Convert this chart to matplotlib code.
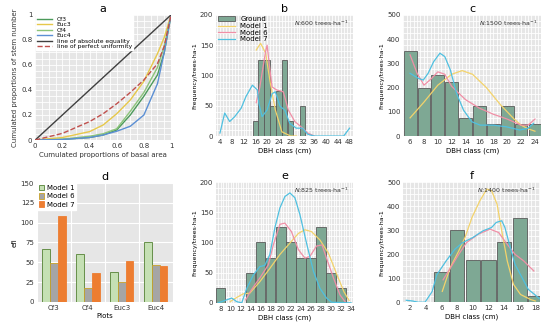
import matplotlib
matplotlib.use("Agg")
import matplotlib.pyplot as plt
from matplotlib.ticker import MultipleLocator

plt.rcParams['font.family'] = ['DejaVu Sans']
plt.rcParams['font.size'] = 5

# ---- panel a: Lorenz curves ----
lor_x = [0, 0.2, 0.4, 0.5, 0.6, 0.7, 0.8, 0.9, 0.95, 1]
cf3_y = [0, 0.005, 0.02, 0.04, 0.08, 0.2, 0.35, 0.52, 0.7, 1]
euc3_y = [0, 0.02, 0.067, 0.12, 0.21, 0.32, 0.47, 0.69, 0.82, 1]
cf4_y = [0, 0.006, 0.03, 0.05, 0.09, 0.23, 0.38, 0.58, 0.75, 1]
euc4_y = [0, 0.004, 0.02, 0.04, 0.07, 0.11, 0.2, 0.45, 0.7, 1]
unif_y = [0, 0.053, 0.147, 0.21, 0.29, 0.38, 0.48, 0.61, 0.75, 1]

# ---- panel b: N 600 ----
b_cls = [16, 18, 20, 22, 24, 26, 28, 32]
b_ground = [25, 125, 125, 50, 75, 125, 25, 50]
b_m1_x = [16.3, 17.8, 19.5, 21.1, 22.8, 25, 28, 30]
b_m1_y = [142, 153, 137, 87, 43, 7, 0, 0]
b_m6_x = [16.3, 17.5, 18.5, 19.5, 20, 20.7, 21.7, 23.3, 25.5, 27.2, 29.4, 32.1, 33.8, 36]
b_m6_y = [55, 80, 110, 140, 150, 120, 81, 76, 73, 43, 24, 13, 5, 0]
b_m7_x = [4, 5.6, 7.3, 9, 11.2, 12.8, 15, 16.7, 17.2, 18.3, 20, 21.7, 22.8, 24.4, 26,
          27.7, 29.9, 32, 33.8, 36, 46, 48]
b_m7_y = [5, 38, 24, 32, 46, 65, 84, 76, 54, 32, 43, 70, 73, 49, 43,
          21, 13, 13, 3, 0, 0, 13]

# ---- panel c: N 1500 ----
c_cls = [6, 8, 10, 12, 14, 16, 18, 20, 22, 24]
c_ground = [350, 200, 250, 225, 75, 125, 50, 125, 50, 50]
c_m1_x = [6, 8, 10, 12, 13.5, 15, 17, 19, 21, 22, 23, 24]
c_m1_y = [75, 140, 210, 255, 270, 255, 200, 130, 70, 45, 30, 20]
c_m6_x = [6, 7, 8, 9, 10, 11, 12, 14, 16, 18, 20, 22, 23, 24]
c_m6_y = [335, 260, 210, 235, 265, 255, 205, 150, 115, 90, 70, 45, 45, 70]
c_m7_x = [6, 7.2, 7.9, 8.6, 9.4, 10.3, 11, 11.8, 12.7, 13.7, 14.9, 16.1, 18, 19.9, 21.8, 23, 23.8]
c_m7_y = [259, 238, 231, 259, 307, 342, 328, 273, 176, 107, 59, 45, 45, 38, 25, 32, 52]

# ---- panel d: efi ----
plots = ['Cf3', 'Cf4', 'Euc3', 'Euc4']
d_m1 = [67, 61, 38, 76]
d_m6 = [49, 17, 25, 47]
d_m7 = [108, 36, 51, 45]

# ---- panel e: N 825 ----
e_cls = [8, 14, 16, 18, 20, 22, 24, 26, 28, 30, 32]
e_ground = [25, 50, 100, 75, 125, 100, 75, 75, 125, 50, 25]
e_m1_x = [9.9, 10.8, 12.5, 13.8, 15.8, 17.8, 19.8, 21.8, 23.5, 24.8, 26.1, 27.8, 29.5, 31.2, 32.6, 33.6]
e_m1_y = [2, 7, 15, 16, 35, 57, 80, 99, 115, 121, 118, 104, 82, 46, 18, 4]
e_m6_x = [13, 14, 15, 15.8, 17.5, 18.5, 19.8, 20.8, 22.1, 23.5, 24.8, 25.8, 27.1, 28.2, 29.1, 30.5, 31.8, 32.8]
e_m6_y = [5, 20, 32, 41, 63, 96, 130, 132, 118, 88, 74, 77, 94, 96, 74, 41, 13, 2]
e_m7_x = [7.5, 9.2, 10.2, 11.2, 12.2, 13.2, 14.5, 15.8, 16.8, 17.8, 18.8, 19.8, 20.8, 21.8, 22.8,
          23.8, 25.2, 26.5, 27.8, 29.1, 30.1, 34]
e_m7_y = [0, 5, 8, 2, 0, 24, 46, 60, 62, 80, 124, 157, 176, 182, 174,
          146, 96, 52, 24, 8, 1, 0]

# ---- panel f: N 1400 ----
f_cls = [6, 8, 10, 12, 14, 16, 18]
f_ground = [125, 300, 175, 175, 250, 350, 25]
f_m1_x = [6.1, 7.1, 8.2, 9, 9.9, 10.9, 11.8, 12.4, 13.1, 13.7, 14.4, 15.2, 16.1, 17.4, 18]
f_m1_y = [45, 143, 213, 269, 353, 422, 471, 464, 408, 297, 172, 74, 32, 11, 5]
f_m6_x = [6.2, 8.2, 9.2, 10.7, 12.2, 13.3, 14.4, 15.4, 16.5, 17.8]
f_m6_y = [93, 199, 248, 283, 304, 290, 241, 199, 172, 130]
f_m7_x = [1.5, 2.3, 3, 3.9, 4.8, 5.4, 6.6, 7.7, 8.7, 10, 11.3, 12.4, 13, 13.7, 14.1,
          14.8, 15.4, 16.3, 17.1, 17.9, 18.5]
f_m7_y = [8, 5, 0, 0, 44, 114, 172, 220, 248, 269, 297, 311, 332, 339, 311,
          227, 157, 102, 53, 32, 15]

BG = '#e6e6e6'
GROUND = '#7ea894'
C1 = '#f3d36b'
C6 = '#f08fa6'
C7 = '#4fc0e0'


def style_ax(ax):
    ax.set_facecolor(BG)
    ax.grid(which='both', color='white', linewidth=0.6)
    ax.set_axisbelow(True)
    for s in ax.spines.values():
        s.set_visible(False)
    ax.tick_params(which='both', length=0, pad=2, labelsize=5, colors='#333333')


fig = plt.figure(figsize=(5.5, 3.31), dpi=100)

# panel a
ax = fig.add_axes([0.064, 0.577, 0.247, 0.378])
style_ax(ax)
ax.plot(lor_x, cf3_y, color='#4c9a5a', lw=1.0, label='Cf3')
ax.plot(lor_x, euc3_y, color='#e6c84a', lw=1.0, label='Euc3')
ax.plot(lor_x, cf4_y, color='#8cc47a', lw=1.0, label='Cf4')
ax.plot(lor_x, euc4_y, color='#5b8fd4', lw=1.0, label='Euc4')
ax.plot([0, 1], [0, 1], color='#404040', lw=1.0, label='line of absolute equality')
ax.plot(lor_x, unif_y, color='#c0504d', lw=1.0, ls='--', label='line of perfect uniformity')
ax.set_xlim(0, 1.0)
ax.set_ylim(0, 1.0)
ax.set_xticks([0, 0.2, 0.4, 0.6, 0.8, 1.0])
ax.set_yticks([0, 0.2, 0.4, 0.6, 0.8, 1.0])
ax.xaxis.set_minor_locator(MultipleLocator(0.05))
ax.yaxis.set_minor_locator(MultipleLocator(0.05))
ax.set_xticklabels(['0', '0.2', '0.4', '0.6', '0.8', '1'])
ax.set_yticklabels(['0', '0.2', '0.4', '0.6', '0.8', '1'])
ax.set_xlabel('Cumulated proportions of basal area', fontsize=5, labelpad=2, color='#333333')
ax.set_ylabel('Cumulated proportions of stem number', fontsize=5, labelpad=2, color='#333333')
ax.set_title('a', fontsize=8, pad=2)
ax.legend(loc='upper left', fontsize=4.3, frameon=True, framealpha=1, edgecolor='white',
          handlelength=2.5, labelspacing=0.05, borderpad=0.2, borderaxespad=0.1,
          fancybox=False)


def dbh_panel(rect, title, cls, ground, m1x, m1y, m6x, m6y, m7x, m7y,
              xlim, xstep, xminor, ymax, ystep, yminor, ntext, legend=False):
    ax = fig.add_axes(rect)
    style_ax(ax)
    bars = ax.bar(cls, ground, width=1.85, color=GROUND, edgecolor='#5a5a5a', linewidth=0.6,
                  label='Ground')
    l1, = ax.plot(m1x, m1y, color=C1, lw=0.9, label='Model 1')
    l6, = ax.plot(m6x, m6y, color=C6, lw=0.9, label='Model 6')
    l7, = ax.plot(m7x, m7y, color=C7, lw=0.9, label='Model 7')
    ax.set_xlim(*xlim)
    ax.set_ylim(0, ymax)
    ax.xaxis.set_major_locator(MultipleLocator(xstep))
    ax.xaxis.set_minor_locator(MultipleLocator(xminor))
    ax.yaxis.set_major_locator(MultipleLocator(ystep))
    ax.yaxis.set_minor_locator(MultipleLocator(yminor))
    ax.set_xlabel('DBH class (cm)', fontsize=5, labelpad=2)
    ax.set_ylabel('Frequency/trees·ha-1', fontsize=4.5, labelpad=2)
    ax.set_title(title, fontsize=8, pad=2)
    ax.text(0.97, 0.93, r'$N$:' + ntext + ' trees·ha$^{-1}$', transform=ax.transAxes,
            ha='right', va='center', fontsize=4.5, color='#333333')
    if legend:
        ax.legend([bars, l1, l6, l7], ['Ground', 'Model 1', 'Model 6', 'Model 7'],
                  loc='upper left', fontsize=5, frameon=False, handlelength=2.5,
                  labelspacing=0.1, borderpad=0.1, borderaxespad=0.1)
    return ax


dbh_panel([0.393, 0.589, 0.249, 0.366], 'b', b_cls, b_ground, b_m1_x, b_m1_y,
          b_m6_x, b_m6_y, b_m7_x, b_m7_y, (2.7, 49.2), 4, 1, 200, 50, 10, '600',
          legend=True)
dbh_panel([0.733, 0.589, 0.251, 0.366], 'c', c_cls, c_ground, c_m1_x, c_m1_y,
          c_m6_x, c_m6_y, c_m7_x, c_m7_y, (5.0, 24.9), 2, 0.5, 500, 100, 25, '1500')
dbh_panel([0.393, 0.085, 0.249, 0.365], 'e', e_cls, e_ground, e_m1_x, e_m1_y,
          e_m6_x, e_m6_y, e_m7_x, e_m7_y, (7.1, 34.4), 2, 0.5, 200, 50, 10, '825')
dbh_panel([0.733, 0.087, 0.249, 0.363], 'f', f_cls, f_ground, f_m1_x, f_m1_y,
          f_m6_x, f_m6_y, f_m7_x, f_m7_y, (1.1, 18.6), 2, 0.5, 500, 100, 25, '1400')

# panel d
ax = fig.add_axes([0.067, 0.088, 0.247, 0.359])
ax.set_facecolor(BG)
ax.set_axisbelow(True)
for s in ax.spines.values():
    s.set_visible(False)
ax.tick_params(which='both', length=0, pad=2, labelsize=5, colors='#333333')
pos = list(range(len(plots)))
w = 0.23
ax.bar([p - w for p in pos], d_m1, width=w, color='#c5e0b4', edgecolor='#548235',
       linewidth=0.6, label='Model 1')
ax.bar(pos, d_m6, width=w, color='#a5a5a5', edgecolor='#c9a227', linewidth=0.6,
       label='Model 6')
ax.bar([p + w for p in pos], d_m7, width=w, color='#ed7d31', edgecolor='#ed7d31',
       linewidth=0.6, label='Model 7')
ax.set_xticks(pos)
ax.set_xticklabels(plots)
ax.set_xticks([-0.5, 0.5, 1.5, 2.5, 3.5], minor=True)
ax.set_xlim(-0.5, 3.5)
ax.set_ylim(0, 150)
ax.yaxis.set_major_locator(MultipleLocator(25))
ax.grid(which='major', axis='y', color='white', linewidth=0.8)
ax.grid(which='minor', axis='x', color='white', linewidth=0.8)
ax.set_xlabel('Plots', fontsize=5, labelpad=2)
ax.set_ylabel('efi', fontsize=5, labelpad=2)
ax.set_title('d', fontsize=8, pad=2)
ax.legend(loc='upper left', fontsize=5, frameon=True, framealpha=1, edgecolor='white',
          fancybox=False, handlelength=0.8, handleheight=0.8, labelspacing=0.3,
          borderpad=0.3, borderaxespad=0.0, handletextpad=0.3)

plt.savefig('out.png', dpi=100, facecolor='white')
